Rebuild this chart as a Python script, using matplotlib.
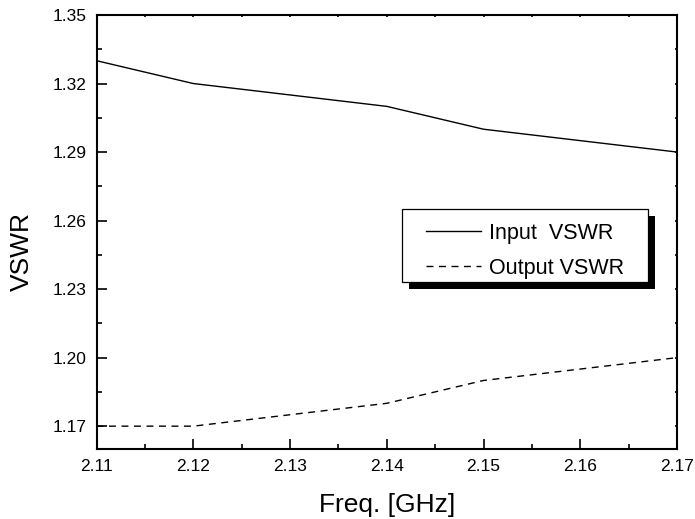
import matplotlib
matplotlib.use("Agg")
import matplotlib.pyplot as plt
from matplotlib.patches import Rectangle
from matplotlib.ticker import MultipleLocator

freq = [2.11, 2.12, 2.14, 2.15, 2.17]
input_vswr = [1.33, 1.32, 1.31, 1.30, 1.29]
output_vswr = [1.17, 1.17, 1.18, 1.19, 1.20]
xticks = [2.11, 2.12, 2.13, 2.14, 2.15, 2.16, 2.17]
yticks = [1.17, 1.20, 1.23, 1.26, 1.29, 1.32, 1.35]

plt.rcParams['font.family'] = ['Liberation Sans', 'DejaVu Sans']

fig = plt.figure(figsize=(6.95, 5.19), dpi=100)
ax = fig.add_axes([96.5/695, 70/519, (677-96.5)/695, (449-15)/519])

ax.plot(freq, input_vswr, color='black', lw=1.0, label='Input  VSWR')
ax.plot(freq, output_vswr, color='black', lw=1.0, dashes=(5, 4), label='Output VSWR')

ax.set_xlim(2.11, 2.17)
ax.set_ylim(1.16, 1.35)
ax.set_xticks(xticks)
ax.set_xticklabels([f"{v:.2f}" for v in xticks])
ax.set_yticks(yticks)
ax.set_yticklabels([f"{v:.2f}" for v in yticks])
ax.xaxis.set_minor_locator(MultipleLocator(0.005))
ax.yaxis.set_minor_locator(MultipleLocator(0.015))

ax.tick_params(which='major', direction='in', length=7, width=1.2, labelsize=12.5, pad=7)
ax.tick_params(which='minor', direction='in', length=3.5, width=1.2)
ax.tick_params(which='both', top=True, right=True)
for s in ax.spines.values():
    s.set_linewidth(1.5)
for t in ax.xaxis.get_major_ticks() + ax.xaxis.get_minor_ticks():
    t.tick2line.set_markersize(1.5)
for t in ax.yaxis.get_major_ticks() + ax.yaxis.get_minor_ticks():
    t.tick2line.set_markersize(1.5)

ax.set_xlabel('Freq. [GHz]', fontsize=19, labelpad=14)
ax.set_ylabel('VSWR', fontsize=19)
ax.yaxis.set_label_coords(-0.108, 0.456)

extra_l, extra_r = 14, 14   # extra horizontal frame padding, px
top_adj, bot_adj = 4, 6     # frame shift relative to legend box, px
leg = ax.legend(loc='upper left',
                bbox_to_anchor=((402 + extra_l)/695, 1 - (209 + top_adj)/519),
                bbox_transform=fig.transFigure, frameon=False,
                fontsize=15.5, handlelength=2.55,
                handletextpad=0.4, borderpad=0.45, labelspacing=0.65,
                borderaxespad=0)
leg.set_zorder(6)

fig.canvas.draw()
bb = leg.get_window_extent()
inv = fig.transFigure.inverted()

def fig_rect(px0, py0, px1, py1, **kw):
    (a0, b0), (a1, b1) = inv.transform([(px0, py0), (px1, py1)])
    return Rectangle((a0, b0), a1 - a0, b1 - b0, transform=fig.transFigure,
                     clip_on=False, **kw)

fx0, fx1 = bb.x0 - extra_l, bb.x1 + extra_r
fy0, fy1 = bb.y0 + bot_adj, bb.y1 + top_adj
ax.add_artist(fig_rect(fx0 + 7, fy0 - 7, fx1 + 7, fy1 - 7,
                       facecolor='black', edgecolor='none', zorder=4))
ax.add_artist(fig_rect(fx0, fy0, fx1, fy1,
                       facecolor='white', edgecolor='black', linewidth=0.9, zorder=5))

fig.savefig('out.png', dpi=100)
